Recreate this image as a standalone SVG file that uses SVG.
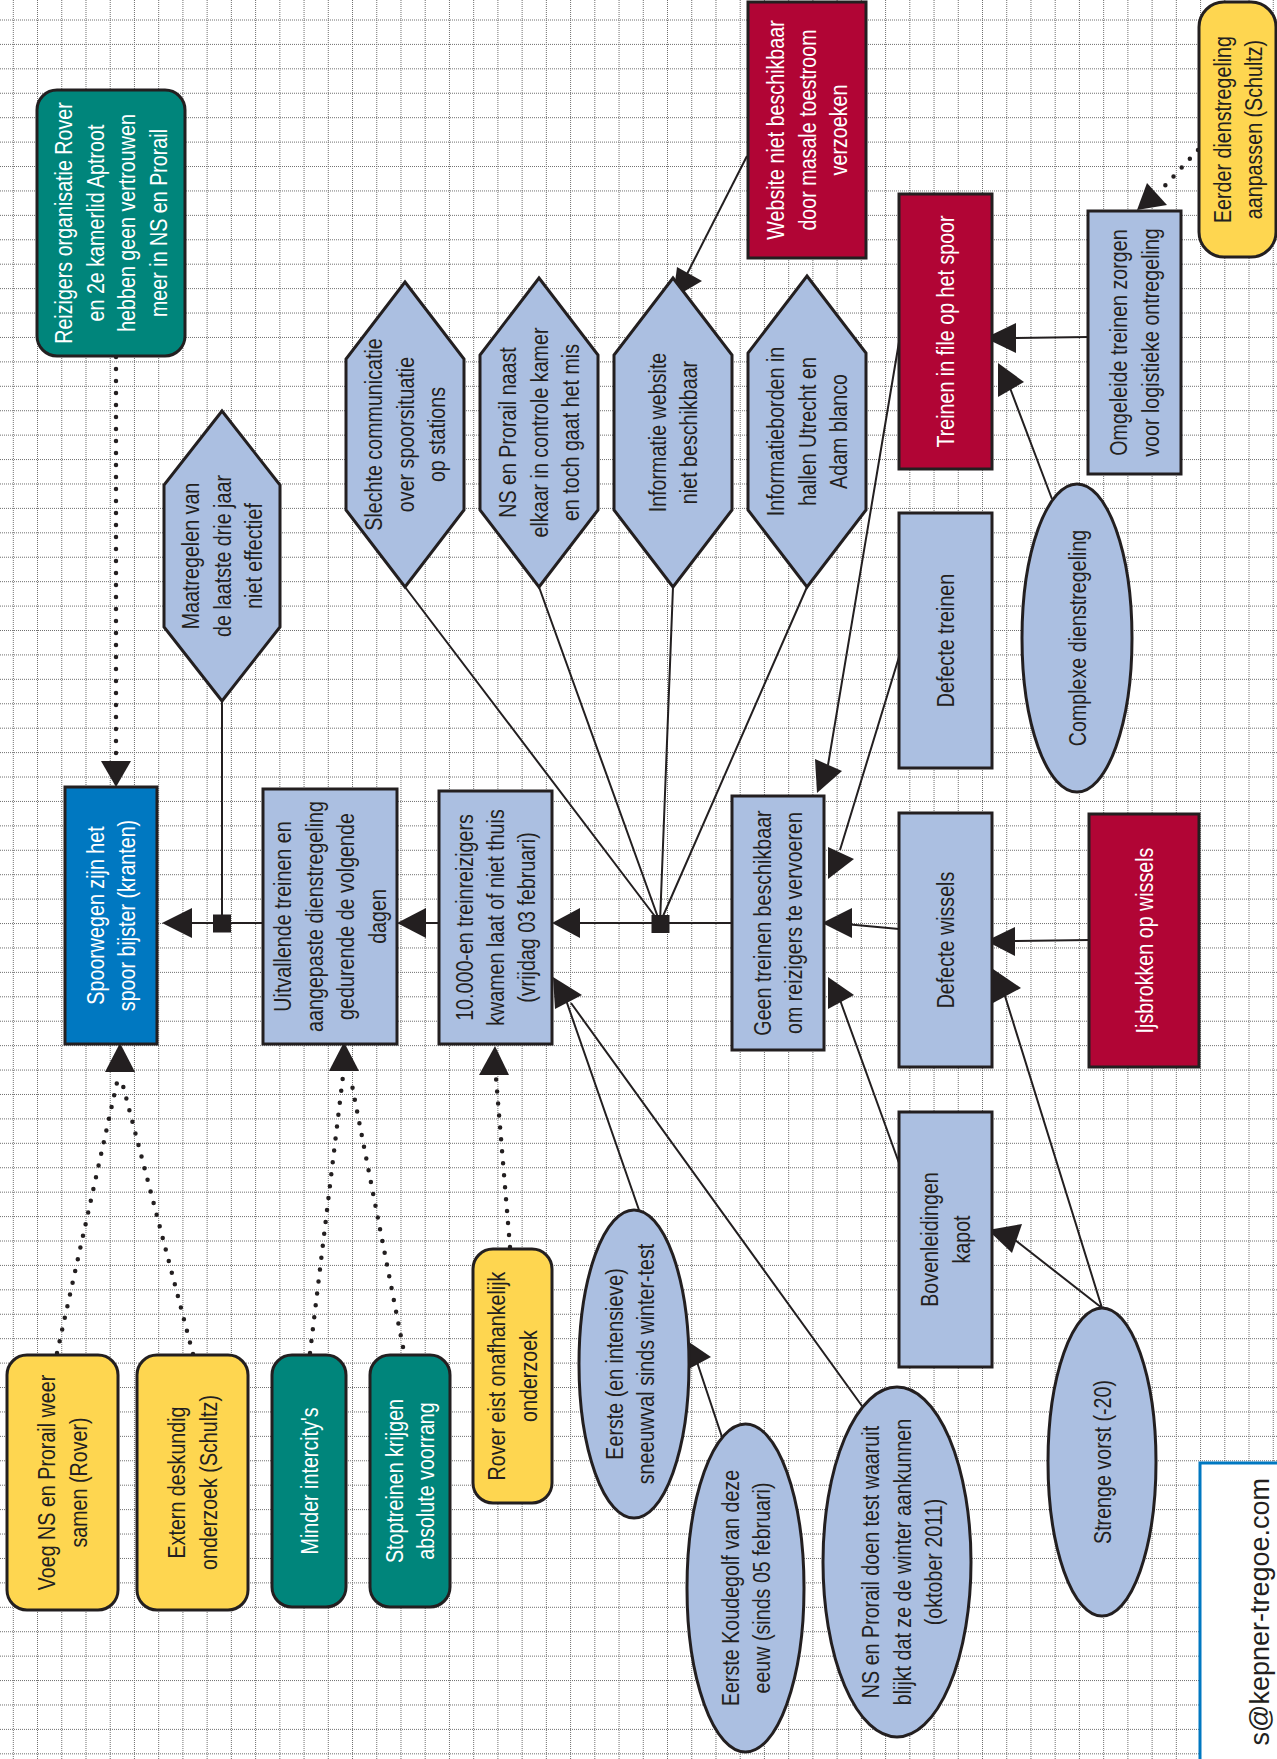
<svg xmlns="http://www.w3.org/2000/svg" width="1277" height="1759" viewBox="0 0 1277 1759">
<style>
.grid{fill:none;stroke:#707070;stroke-width:1;stroke-dasharray:1 1}
.nd{stroke:#231f20;stroke-width:3}
.lb{fill:#abbfe1}
.cr{fill:#b10535}
.tl{fill:#00857b}
.yl{fill:#fed650}
.bl{fill:#0078c1}
.ln{fill:none;stroke:#231f20;stroke-width:2}
.dt{fill:none;stroke:#231f20;stroke-width:4.5;stroke-linecap:round;stroke-dasharray:0 12}
.ah{fill:#231f20}
.t{font-family:"Liberation Sans",Arial,sans-serif;font-size:24px;fill:#231f20;text-anchor:middle}
.w{fill:#ffffff}
</style>
<rect width="1277" height="1759" fill="#ffffff"/>
<g id="grid">
<path class="grid" d="M13.3 0V1759M37.53 0V1759M61.76 0V1759M85.99 0V1759M110.22 0V1759M134.45 0V1759M158.68 0V1759M182.91 0V1759M207.14 0V1759M231.37 0V1759M255.6 0V1759M279.83 0V1759M304.06 0V1759M328.29 0V1759M352.52 0V1759M376.75 0V1759M400.98 0V1759M425.21 0V1759M449.44 0V1759M473.67 0V1759M497.9 0V1759M522.13 0V1759M546.36 0V1759M570.59 0V1759M594.82 0V1759M619.05 0V1759M643.28 0V1759M667.51 0V1759M691.74 0V1759M715.97 0V1759M740.2 0V1759M764.43 0V1759M788.66 0V1759M812.89 0V1759M837.12 0V1759M861.35 0V1759M885.58 0V1759M909.81 0V1759M934.04 0V1759M958.27 0V1759M982.5 0V1759M1006.73 0V1759M1030.96 0V1759M1055.19 0V1759M1079.42 0V1759M1103.65 0V1759M1127.88 0V1759M1152.11 0V1759M1176.34 0V1759M1200.57 0V1759M1224.8 0V1759M1249.03 0V1759M1273.26 0V1759"/>
<path class="grid" d="M0 20H1277M0 44.42H1277M0 68.84H1277M0 93.26H1277M0 117.68H1277M0 142.1H1277M0 166.52H1277M0 190.94H1277M0 215.36H1277M0 239.78H1277M0 264.2H1277M0 288.62H1277M0 313.04H1277M0 337.46H1277M0 361.88H1277M0 386.3H1277M0 410.72H1277M0 435.14H1277M0 459.56H1277M0 483.98H1277M0 508.4H1277M0 532.82H1277M0 557.24H1277M0 581.66H1277M0 606.08H1277M0 630.5H1277M0 654.92H1277M0 679.34H1277M0 703.76H1277M0 728.18H1277M0 752.6H1277M0 777.02H1277M0 801.44H1277M0 825.86H1277M0 850.28H1277M0 874.7H1277M0 899.12H1277M0 923.54H1277M0 947.96H1277M0 972.38H1277M0 996.8H1277M0 1021.22H1277M0 1045.64H1277M0 1070.06H1277M0 1094.48H1277M0 1118.9H1277M0 1143.32H1277M0 1167.74H1277M0 1192.16H1277M0 1216.58H1277M0 1241H1277M0 1265.42H1277M0 1289.84H1277M0 1314.26H1277M0 1338.68H1277M0 1363.1H1277M0 1387.52H1277M0 1411.94H1277M0 1436.36H1277M0 1460.78H1277M0 1485.2H1277M0 1509.62H1277M0 1534.04H1277M0 1558.46H1277M0 1582.88H1277M0 1607.3H1277M0 1631.72H1277M0 1656.14H1277M0 1680.56H1277M0 1704.98H1277M0 1729.4H1277M0 1753.82H1277"/>
</g>
<g id="connectors">
<path class="ln" d="M190 923H263M424 923H439M578 923H732M222 701V923"/>
<path class="ln" d="M405 587L660 923M539 587L660 923M673 587L660 923M807 587L660 923"/>
<path class="ln" d="M747 156L686 276"/>
<path class="ln" d="M899 342L828 765M899 657L840 850M899 929L845 924M899 1163L840 1000"/>
<path class="ln" d="M1088 337L1012 338M1052 499L1010 388M1089 940L1012 941"/>
<path class="ln" d="M1102 1308L1005 996M1102 1308L1015 1240"/>
<path class="ln" d="M639 1210L566 1000M862 1406L571 1003M722 1437L697 1362"/>
<path class="dt" d="M116 357V760M57 1353L118 1078M193 1354L121 1078M310 1353L343 1076M403 1347L351 1080M510 1247L496 1078M1198 150L1160 191"/>
<rect class="ah" x="213" y="914.5" width="18" height="18"/>
<rect class="ah" x="651.5" y="915" width="18" height="18"/>
<polygon class="ah" points="162,923 192,908 192,938"/>
<polygon class="ah" points="397,923 426,908 426,938"/>
<polygon class="ah" points="552,923 580,908 580,938"/>
<polygon class="ah" points="822,923 852,908 852,938"/>
<polygon class="ah" points="985,338 1016,323 1016,353"/>
<polygon class="ah" points="986,941 1015,927 1015,956"/>
<polygon class="ah" points="673,298 677,267 702,281"/>
<polygon class="ah" points="815,759 817,793 842,771"/>
<polygon class="ah" points="828,847 828,879 854,859"/>
<polygon class="ah" points="828,977 828,1009 854,995"/>
<polygon class="ah" points="993,969 993,1003 1021,988"/>
<polygon class="ah" points="998,363 998,397 1024,382"/>
<polygon class="ah" points="553,977 555,1009 582,995"/>
<polygon class="ah" points="683,1338 685,1371 711,1357"/>
<polygon class="ah" points="988,1230 1012,1253 1022,1224"/>
<polygon class="ah" points="101,761 131,761 116,787"/>
<polygon class="ah" points="120,1043 105,1072 135,1072"/>
<polygon class="ah" points="344,1042 329,1071 359,1071"/>
<polygon class="ah" points="495,1046 479,1075 509,1075"/>
<polygon class="ah" points="1147,183 1137,210 1167,205"/>
</g>
<g id="n-reizigers"><rect class="nd tl" x="37" y="90" width="148" height="266" rx="20"/>
<text class="t w" transform="translate(111 223) rotate(-90) scale(0.82 1)"><tspan x="0" y="-38.75">Reizigers organisatie Rover</tspan><tspan x="0" y="-7.25">en 2e kamerlid Aptroot</tspan><tspan x="0" y="24.25">hebben geen vertrouwen</tspan><tspan x="0" y="55.75">meer in NS en Prorail</tspan></text></g>
<g id="n-spoorwegen"><rect class="nd bl" x="65" y="787" width="92" height="257"/>
<text class="t w" transform="translate(111 915.5) rotate(-90) scale(0.82 1)"><tspan x="0" y="-7.25">Spoorwegen zijn het</tspan><tspan x="0" y="24.25">spoor bijster (kranten)</tspan></text></g>
<g id="n-maatregelen"><polygon class="nd lb" points="222,411 280,485 280,627 222,701 164,627 164,485"/>
<text class="t" transform="translate(222 556) rotate(-90) scale(0.82 1)"><tspan x="0" y="-23">Maatregelen van</tspan><tspan x="0" y="8.5">de laatste drie jaar</tspan><tspan x="0" y="40">niet effectief</tspan></text></g>
<g id="n-uitvallende"><rect class="nd lb" x="263" y="789" width="134" height="255"/>
<text class="t" transform="translate(330 916.5) rotate(-90) scale(0.82 1)"><tspan x="0" y="-38.75">Uitvallende treinen en</tspan><tspan x="0" y="-7.25">aangepaste dienstregeling</tspan><tspan x="0" y="24.25">gedurende de volgende</tspan><tspan x="0" y="55.75">dagen</tspan></text></g>
<g id="n-reizigers10000"><rect class="nd lb" x="439" y="791" width="113" height="253"/>
<text class="t" transform="translate(495.5 917.5) rotate(-90) scale(0.82 1)"><tspan x="0" y="-23">10.000-en treinreizigers</tspan><tspan x="0" y="8.5">kwamen laat of niet thuis</tspan><tspan x="0" y="40">(vrijdag 03 februari)</tspan></text></g>
<g id="n-slechte"><polygon class="nd lb" points="405,282 464,359 464,510 405,587 346,510 346,359"/>
<text class="t" transform="translate(405 434.5) rotate(-90) scale(0.82 1)"><tspan x="0" y="-23">Slechte communicatie</tspan><tspan x="0" y="8.5">over spoorsituatie</tspan><tspan x="0" y="40">op stations</tspan></text></g>
<g id="n-controlekamer"><polygon class="nd lb" points="539,278 598,355 598,510 539,587 480,510 480,355"/>
<text class="t" transform="translate(539 432.5) rotate(-90) scale(0.82 1)"><tspan x="0" y="-23">NS en Prorail naast</tspan><tspan x="0" y="8.5">elkaar in controle kamer</tspan><tspan x="0" y="40">en toch gaat het mis</tspan></text></g>
<g id="n-infowebsite"><polygon class="nd lb" points="673,278 732,355 732,510 673,587 614,510 614,355"/>
<text class="t" transform="translate(673 432.5) rotate(-90) scale(0.82 1)"><tspan x="0" y="-7.25">Informatie website</tspan><tspan x="0" y="24.25">niet beschikbaar</tspan></text></g>
<g id="n-infoborden"><polygon class="nd lb" points="807,276 866,353 866,510 807,587 748,510 748,353"/>
<text class="t" transform="translate(807 431.5) rotate(-90) scale(0.82 1)"><tspan x="0" y="-23">Informatieborden in</tspan><tspan x="0" y="8.5">hallen Utrecht en</tspan><tspan x="0" y="40">Adam blanco</tspan></text></g>
<g id="n-website"><rect class="nd cr" x="748" y="2" width="118" height="256"/>
<text class="t w" transform="translate(807 130) rotate(-90) scale(0.82 1)"><tspan x="0" y="-23">Website niet beschikbaar</tspan><tspan x="0" y="8.5">door masale toestroom</tspan><tspan x="0" y="40">verzoeken</tspan></text></g>
<g id="n-geentreinen"><rect class="nd lb" x="732" y="796" width="92" height="254"/>
<text class="t" transform="translate(778 923) rotate(-90) scale(0.82 1)"><tspan x="0" y="-7.25">Geen treinen beschikbaar</tspan><tspan x="0" y="24.25">om reizigers te vervoeren</tspan></text></g>
<g id="n-file"><rect class="nd cr" x="899" y="194" width="93" height="275"/>
<text class="t w" transform="translate(945.5 331.5) rotate(-90) scale(0.82 1)"><tspan x="0" y="8.5">Treinen in file op het spoor</tspan></text></g>
<g id="n-omgeleide"><rect class="nd lb" x="1088" y="211" width="93" height="263"/>
<text class="t" transform="translate(1134.5 342.5) rotate(-90) scale(0.82 1)"><tspan x="0" y="-7.25">Omgeleide treinen zorgen</tspan><tspan x="0" y="24.25">voor logistieke ontregeling</tspan></text></g>
<g id="n-eerder"><rect class="nd yl" x="1199" y="2" width="77" height="255" rx="25"/>
<text class="t" transform="translate(1238 129.5) rotate(-90) scale(0.82 1)"><tspan x="0" y="-7.25">Eerder dienstregeling</tspan><tspan x="0" y="24.25">aanpassen (Schultz)</tspan></text></g>
<g id="n-defectetreinen"><rect class="nd lb" x="899" y="513" width="93" height="255"/>
<text class="t" transform="translate(945.5 640.5) rotate(-90) scale(0.82 1)"><tspan x="0" y="8.5">Defecte treinen</tspan></text></g>
<g id="n-complexe"><ellipse class="nd lb" cx="1077" cy="638" rx="55" ry="154"/>
<text class="t" transform="translate(1077 638) rotate(-90) scale(0.82 1)"><tspan x="0" y="8.5">Complexe dienstregeling</tspan></text></g>
<g id="n-wissels"><rect class="nd lb" x="899" y="813" width="93" height="254"/>
<text class="t" transform="translate(945.5 940) rotate(-90) scale(0.82 1)"><tspan x="0" y="8.5">Defecte wissels</tspan></text></g>
<g id="n-ijsbrokken"><rect class="nd cr" x="1089" y="814" width="110" height="253"/>
<text class="t w" transform="translate(1144 940.5) rotate(-90) scale(0.82 1)"><tspan x="0" y="8.5">Ijsbrokken op wissels</tspan></text></g>
<g id="n-bovenleidingen"><rect class="nd lb" x="899" y="1112" width="93" height="255"/>
<text class="t" transform="translate(945.5 1239.5) rotate(-90) scale(0.82 1)"><tspan x="0" y="-7.25">Bovenleidingen</tspan><tspan x="0" y="24.25">kapot</tspan></text></g>
<g id="n-vorst"><ellipse class="nd lb" cx="1102" cy="1462" rx="54" ry="154"/>
<text class="t" transform="translate(1102 1462) rotate(-90) scale(0.82 1)"><tspan x="0" y="8.5">Strenge vorst (-20)</tspan></text></g>
<g id="n-sneeuwval"><ellipse class="nd lb" cx="634" cy="1364" rx="55" ry="154"/>
<text class="t" transform="translate(630 1364) rotate(-90) scale(0.82 1)"><tspan x="0" y="-7.25">Eerste (en intensieve)</tspan><tspan x="0" y="24.25">sneeuwval sinds winter-test</tspan></text></g>
<g id="n-koudegolf"><ellipse class="nd lb" cx="745.5" cy="1588" rx="58.5" ry="164"/>
<text class="t" transform="translate(746 1588) rotate(-90) scale(0.82 1)"><tspan x="0" y="-7.25">Eerste Koudegolf van deze</tspan><tspan x="0" y="24.25">eeuw (sinds 05 februari)</tspan></text></g>
<g id="n-wintertest"><ellipse class="nd lb" cx="897" cy="1562" rx="74" ry="175"/>
<text class="t" transform="translate(902 1562) rotate(-90) scale(0.82 1)"><tspan x="0" y="-23">NS en Prorail doen test waaruit</tspan><tspan x="0" y="8.5">blijkt dat ze de winter aankunnen</tspan><tspan x="0" y="40">(oktober 2011)</tspan></text></g>
<g id="n-rover"><rect class="nd yl" x="473" y="1249" width="79" height="254" rx="20"/>
<text class="t" transform="translate(512.5 1376) rotate(-90) scale(0.82 1)"><tspan x="0" y="-7.25">Rover eist onafhankelijk</tspan><tspan x="0" y="24.25">onderzoek</tspan></text></g>
<g id="n-voeg"><rect class="nd yl" x="7" y="1355" width="111" height="255" rx="20"/>
<text class="t" transform="translate(62.5 1482.5) rotate(-90) scale(0.82 1)"><tspan x="0" y="-7.25">Voeg NS en Prorail weer</tspan><tspan x="0" y="24.25">samen (Rover)</tspan></text></g>
<g id="n-extern"><rect class="nd yl" x="137" y="1355" width="111" height="255" rx="20"/>
<text class="t" transform="translate(192.5 1482.5) rotate(-90) scale(0.82 1)"><tspan x="0" y="-7.25">Extern deskundig</tspan><tspan x="0" y="24.25">onderzoek (Schultz)</tspan></text></g>
<g id="n-minder"><rect class="nd tl" x="272" y="1355" width="74" height="252" rx="20"/>
<text class="t w" transform="translate(309 1481) rotate(-90) scale(0.82 1)"><tspan x="0" y="8.5">Minder intercity's</tspan></text></g>
<g id="n-stoptreinen"><rect class="nd tl" x="370" y="1355" width="80" height="252" rx="20"/>
<text class="t w" transform="translate(410 1481) rotate(-90) scale(0.82 1)"><tspan x="0" y="-7.25">Stoptreinen krijgen</tspan><tspan x="0" y="24.25">absolute voorrang</tspan></text></g>
<g id="footer"><rect x="1200" y="1463" width="120" height="400" fill="#ffffff" stroke="#0078c1" stroke-width="3"/>
<text font-family="'Liberation Sans',Arial,sans-serif" font-size="27" fill="#231f20" text-anchor="end" transform="translate(1269 1478) rotate(-90)">s@kepner-tregoe.com</text></g>
</svg>
